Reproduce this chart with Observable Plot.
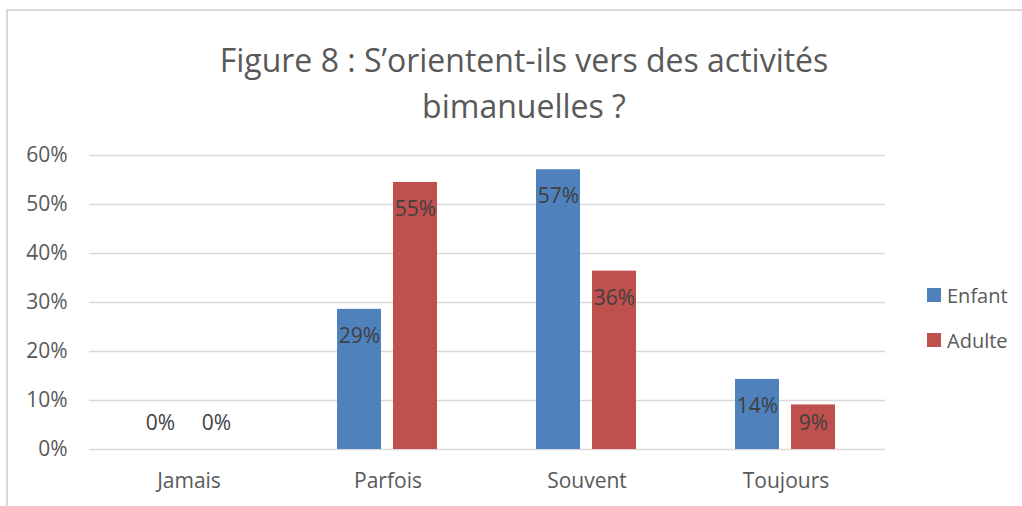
<!DOCTYPE html>
<html>
<head>
<meta charset="utf-8">
<script src="https://cdn.jsdelivr.net/npm/d3@7"></script>
<script src="https://cdn.jsdelivr.net/npm/@observablehq/plot@0.6"></script>
<style>
  html, body { margin: 0; padding: 0; background: #fff; }
  body { width: 1022px; height: 506px; overflow: hidden; position: relative; font-family: "Open Sans", sans-serif; }
  #frame { position: absolute; left: 6px; top: 9px; width: 1100px; height: 600px; border: 2px solid #d9d9d9; box-sizing: border-box; }
  #title { position: absolute; left: 0; top: 37px; width: 1048px; text-align: center; font-size: 32px; line-height: 46px; color: #595959; }
  #chart { position: absolute; left: 0; top: 130px; }
  #legend { position: absolute; left: 927px; top: 280px; font-size: 20px; color: #595959; }
  .item { display: flex; align-items: center; height: 30px; margin-bottom: 15px; }
  .sw { width: 14px; height: 14px; margin-right: 6px; }
</style>
</head>
<body>
<div id="frame"></div>
<div id="title">Figure 8 : S’orientent-ils vers des activités<br>bimanuelles ?</div>
<div id="chart"></div>
<div id="legend"></div>
<script>
const categories = ["Jamais", "Parfois", "Souvent", "Toujours"];
const series = ["Enfant", "Adulte"];
const enfant = [0, 28.6, 57.1, 14.3];
const adulte = [0, 54.5, 36.4, 9.1];
const labelsEnfant = ["0%", "29%", "57%", "14%"];
const labelsAdulte = ["0%", "55%", "36%", "9%"];
const yTicks = [0, 10, 20, 30, 40, 50, 60];
const colors = ["#4F81BD", "#C0504D"];

const data = [];
categories.forEach((c, i) => {
  data.push({cat: c, series: "Enfant", value: enfant[i], label: labelsEnfant[i]});
  data.push({cat: c, series: "Adulte", value: adulte[i], label: labelsAdulte[i]});
});

const labelFloor = 10.8; // keep labels above the baseline for short bars

const chart = Plot.plot({
  width: 1022,
  height: 376,
  marginTop: 25,
  marginBottom: 57,
  marginLeft: 87,
  marginRight: 136,
  style: {fontFamily: "Open Sans", fontSize: "21px", color: "#595959", background: "transparent"},
  fx: {domain: categories, padding: 0, label: null},
  x: {domain: series, paddingInner: 0.2105, paddingOuter: 0.8596, axis: null},
  y: {domain: [0, 60], label: null},
  color: {domain: series, range: colors},
  marks: [
    Plot.gridY(yTicks, {stroke: "#d9d9d9", strokeOpacity: 1, strokeWidth: 1.3}),
    Plot.barY(data, {fx: "cat", x: "series", y: "value", fill: "series"}),
    Plot.text(data, {fx: "cat", x: "series", y: d => Math.max(d.value, labelFloor), dy: 27, text: "label", fill: "#404040", fontSize: 21}),
    Plot.axisY(yTicks, {tickSize: 0, tickPadding: 22, tickFormat: d => d + "%", label: null}),
    Plot.axisFx({anchor: "bottom", tickSize: 0, tickPadding: 24, label: null})
  ]
});
document.getElementById("chart").appendChild(chart);

const legend = document.getElementById("legend");
series.forEach((s, i) => {
  const item = document.createElement("div");
  item.className = "item";
  const sw = document.createElement("div");
  sw.className = "sw";
  sw.style.background = colors[i];
  const t = document.createElement("span");
  t.textContent = s;
  item.appendChild(sw);
  item.appendChild(t);
  legend.appendChild(item);
});
</script>
</body>
</html>
